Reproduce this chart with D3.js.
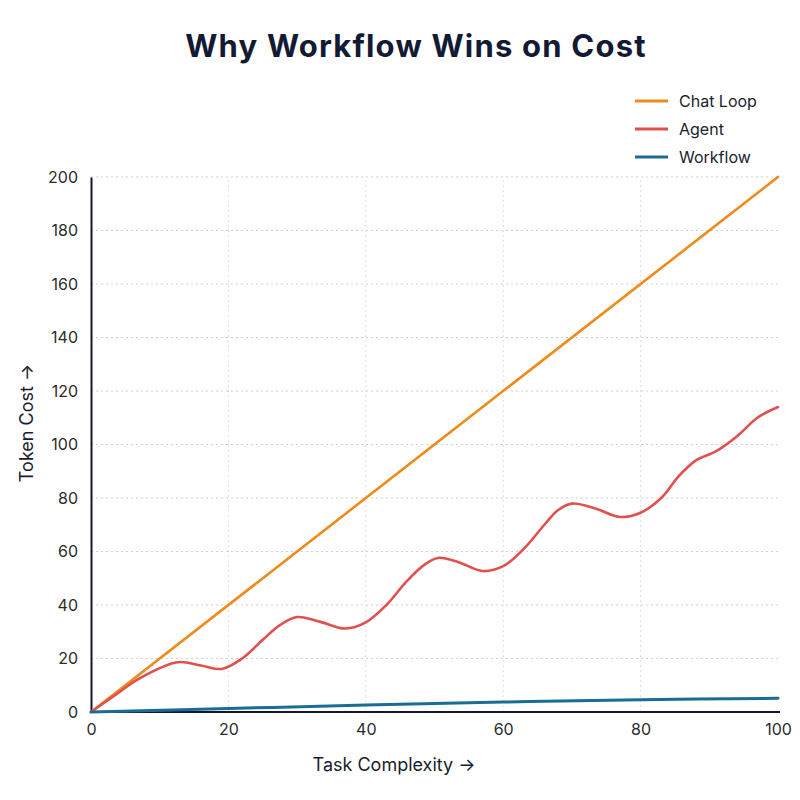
<!DOCTYPE html>
<html>
<head>
<meta charset="utf-8">
<script src="https://cdn.jsdelivr.net/npm/d3@7"></script>
<style>
  body { margin: 0; background: #fff; }
  text { font-family: Inter, "Noto Sans", sans-serif; }
</style>
</head>
<body>
<svg id="chart" width="800" height="800"></svg>
<script>
// Data
const xTicks = [0, 20, 40, 60, 80, 100];
const yTicks = [0, 20, 40, 60, 80, 100, 120, 140, 160, 180, 200];

const chatLoop = [[0, 0], [100, 200]];

const agent = [
  [0, 0], [3.5, 6.3], [7, 12.5], [12.6, 18.6], [16, 17.4], [19, 16.1],
  [22, 20], [25, 27], [27.5, 32.5], [30, 35.5], [33.5, 33.6], [37, 31.2],
  [40, 33.5], [43, 40], [46, 49], [48.5, 55], [50.5, 57.6], [53.5, 56],
  [57, 52.7], [60, 54.5], [63, 61], [66, 70], [68, 75.5], [70, 77.9],
  [73.5, 76], [77, 72.9], [80, 74.5], [83, 80], [85.5, 88], [88, 94],
  [91, 97.5], [94, 103], [97, 110], [100, 114]
];

const workflow = [[0, 0], [20, 1.3], [40, 2.6], [60, 3.7], [80, 4.6], [100, 5.1]];

const series = [
  {name: "Chat Loop", color: "#ee8b1c", values: chatLoop},
  {name: "Agent", color: "#e0504f", values: agent},
  {name: "Workflow", color: "#1b6c95", values: workflow}
];

const svg = d3.select("#chart");

const x = d3.scaleLinear().domain([0, 100]).range([91, 778]);
const y = d3.scaleLinear().domain([0, 200]).range([712, 177]);

// grid
svg.append("g")
  .selectAll("line.h")
  .data(yTicks.slice(1))
  .enter().append("line")
  .attr("x1", x(0)).attr("x2", x(100))
  .attr("y1", d => y(d)).attr("y2", d => y(d))
  .attr("stroke", "#cfcfcf").attr("stroke-width", 1)
  .attr("stroke-dasharray", "2,3");

svg.append("g")
  .selectAll("line.v")
  .data(xTicks.slice(1, -1))
  .enter().append("line")
  .attr("x1", d => x(d)).attr("x2", d => x(d))
  .attr("y1", y(0)).attr("y2", y(200))
  .attr("stroke", "#dedede").attr("stroke-width", 1)
  .attr("stroke-dasharray", "2,3");

// axes
const xAxis = svg.append("g")
  .attr("transform", `translate(0,${y(0)})`)
  .call(d3.axisBottom(x).tickValues(xTicks).tickSize(0).tickPadding(12));
xAxis.select(".domain").attr("stroke", "#15182a").attr("stroke-width", 2)
  .attr("d", `M${x(0)},0H${x(100) + 2}`);
xAxis.selectAll("text").attr("font-size", 16).attr("fill", "#2b2b2b")
  .attr("font-family", "Inter, sans-serif");

const yAxis = svg.append("g")
  .attr("transform", `translate(${x(0)},0)`)
  .call(d3.axisLeft(y).tickValues(yTicks).tickSize(0).tickPadding(13));
yAxis.select(".domain").attr("stroke", "#15182a").attr("stroke-width", 2);
yAxis.selectAll("text").attr("font-size", 16).attr("fill", "#2b2b2b")
  .attr("font-family", "Inter, sans-serif");

// lines
const line = d3.line()
  .x(d => x(d[0]))
  .y(d => y(d[1]))
  .curve(d3.curveCatmullRom.alpha(0.5));

svg.append("g")
  .selectAll("path")
  .data(series)
  .enter().append("path")
  .attr("d", d => line(d.values))
  .attr("fill", "none")
  .attr("stroke", d => d.color)
  .attr("stroke-width", d => d.name == "Workflow" ? 3 : 2.6)
  .attr("stroke-linecap", "round");

// title
svg.append("text")
  .attr("x", 416).attr("y", 57)
  .attr("text-anchor", "middle")
  .attr("font-size", 31).attr("font-weight", 700)
  .attr("letter-spacing", 1.2)
  .attr("fill", "#131a33")
  .text("Why Workflow Wins on Cost");

// axis titles
svg.append("text")
  .attr("x", 394).attr("y", 771)
  .attr("text-anchor", "middle")
  .attr("font-size", 18).attr("fill", "#1a1d2e")
  .text("Task Complexity →");

svg.append("text")
  .attr("transform", "translate(33,423) rotate(-90)")
  .attr("text-anchor", "middle")
  .attr("font-size", 18).attr("fill", "#1a1d2e")
  .text("Token Cost  →");

// legend
const legend = svg.append("g")
  .selectAll("g")
  .data(series)
  .enter().append("g")
  .attr("transform", (d, i) => `translate(635,${101 + i * 28})`);

legend.append("line")
  .attr("x1", 0).attr("x2", 33)
  .attr("stroke", d => d.color).attr("stroke-width", 3);

legend.append("text")
  .attr("x", 44).attr("y", 6)
  .attr("font-size", 16).attr("fill", "#1a1d2e")
  .text(d => d.name);
</script>
</body>
</html>
